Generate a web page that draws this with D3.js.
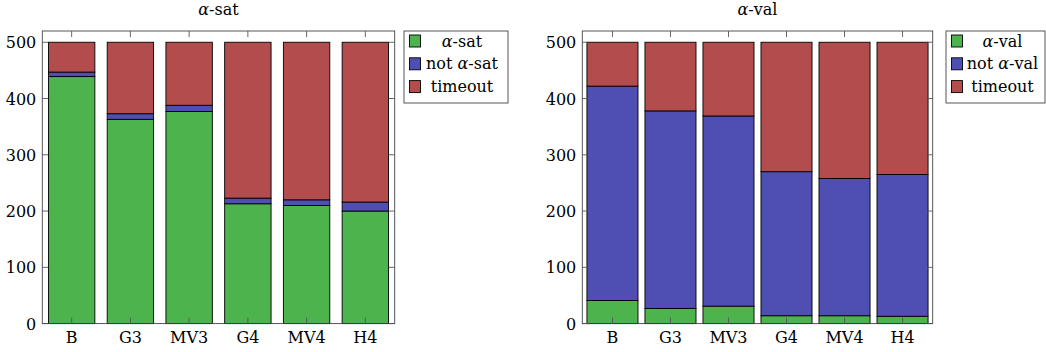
<html>
<head>
<script src="https://d3js.org/d3.v7.min.js"></script>
<style>
  body { margin: 0; background: #fff; }
  svg text { font-family: "DejaVu Serif", serif; font-size: 16px; fill: #000; }
</style>
</head>
<body>
<svg id="chart" width="1046" height="352"></svg>
<script>
// data
const categories = ["B", "G3", "MV3", "G4", "MV4", "H4"];
const satYes     = [439, 363, 377, 213, 210, 200];
const satNo      = [8, 10, 11, 10, 10, 16];
const satTimeout = [53, 127, 112, 277, 280, 284];
const valYes     = [41, 27, 31, 14, 14, 13];
const valNo      = [381, 351, 338, 256, 244, 252];
const valTimeout = [78, 122, 131, 230, 242, 235];
const yTicks = [0, 100, 200, 300, 400, 500];

const colors = ["#4db34d", "#4f4fb3", "#b34d4d"];

const svg = d3.select("#chart");

function panel(opt) {
  const top = 31, bottom = 323.6;
  const x = d3.scaleBand().domain(categories)
    .range([opt.x0, opt.x1])
    .paddingInner(opt.pin).paddingOuter(opt.pout);
  const y = d3.scaleLinear().domain([0, 520]).range([bottom, top]);

  const rows = categories.map((c, i) => ({ cat: c, yes: opt.series[0][i], no: opt.series[1][i], timeout: opt.series[2][i] }));
  const stack = d3.stack().keys(["yes", "no", "timeout"])(rows);

  const g = svg.append("g");

  g.selectAll("g.layer").data(stack).enter().append("g")
    .attr("fill", (d, i) => colors[i])
    .selectAll("rect").data(d => d).enter().append("rect")
    .attr("x", d => x(d.data.cat))
    .attr("width", x.bandwidth())
    .attr("y", d => y(d[1]))
    .attr("height", d => y(d[0]) - y(d[1]))
    .attr("stroke", "#000")
    .attr("stroke-width", 0.9);

  // frame
  g.append("rect")
    .attr("x", opt.x0).attr("y", top)
    .attr("width", opt.x1 - opt.x0).attr("height", bottom - top)
    .attr("fill", "none").attr("stroke", "#444").attr("stroke-width", 0.9);

  // ticks, inward on every side
  const tl = 6;
  yTicks.forEach(t => {
    g.append("line").attr("x1", opt.x0).attr("x2", opt.x0 + tl).attr("y1", y(t)).attr("y2", y(t))
      .attr("stroke", "#555").attr("stroke-width", 0.9);
    g.append("line").attr("x1", opt.x1).attr("x2", opt.x1 - tl).attr("y1", y(t)).attr("y2", y(t))
      .attr("stroke", "#555").attr("stroke-width", 0.9);
    g.append("text").attr("x", opt.x0 - 6).attr("y", y(t) + 6)
      .attr("text-anchor", "end").text(t);
  });
  categories.forEach(c => {
    const cx = x(c) + x.bandwidth() / 2;
    g.append("line").attr("x1", cx).attr("x2", cx).attr("y1", top).attr("y2", top + tl)
      .attr("stroke", "#555").attr("stroke-width", 0.9);
    g.append("line").attr("x1", cx).attr("x2", cx).attr("y1", bottom).attr("y2", bottom - tl)
      .attr("stroke", "#555").attr("stroke-width", 0.9);
    g.append("text").attr("x", cx).attr("y", bottom + 19.5)
      .attr("text-anchor", "middle").text(c);
  });

  // title
  const title = g.append("text").attr("x", (opt.x0 + opt.x1) / 2).attr("y", 15)
    .attr("text-anchor", "middle");
  title.append("tspan").style("font-style", "italic").text("α");
  title.append("tspan").text("-" + opt.name);

  // legend
  const lg = g.append("g");
  lg.append("rect").attr("x", opt.lx).attr("y", 31).attr("width", opt.lw).attr("height", 72)
    .attr("fill", "#fff").attr("stroke", "#444").attr("stroke-width", 0.9);
  const labels = [["", "α", "-" + opt.name], ["not ", "α", "-" + opt.name], ["timeout", "", ""]];
  labels.forEach((lab, i) => {
    const cy = 41 + i * 22.8;
    lg.append("rect").attr("x", opt.lx + 5.5).attr("y", cy - 6).attr("width", 11).attr("height", 12)
      .attr("fill", colors[i]).attr("stroke", "#000").attr("stroke-width", 0.9);
    const t = lg.append("text").attr("x", opt.lx + opt.tx).attr("y", cy + 5.5).attr("text-anchor", "middle");
    t.append("tspan").text(lab[0]);
    if (lab[1]) t.append("tspan").style("font-style", "italic").text(lab[1]);
    if (lab[2]) t.append("tspan").text(lab[2]);
  });
}

panel({ name: "sat", series: [satYes, satNo, satTimeout], x0: 42.3, x1: 394.7, pin: 0.21, pout: 0.105, lx: 404, lw: 104, tx: 58 });
panel({ name: "val", series: [valYes, valNo, valTimeout], x0: 582.3, x1: 932.7, pin: 0.12, pout: 0.08, lx: 946, lw: 99, tx: 56.5 });
</script>
</body>
</html>
